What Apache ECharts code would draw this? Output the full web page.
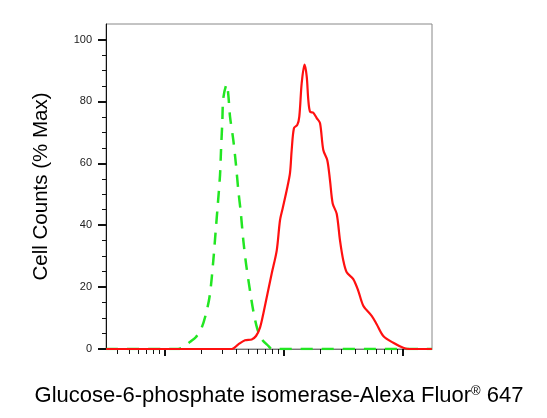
<!DOCTYPE html>
<html><head><meta charset="utf-8">
<script src="https://cdn.jsdelivr.net/npm/echarts@6/dist/echarts.min.js"></script>
<style>html,body{margin:0;padding:0;background:#fff}#c{width:547px;height:418px}</style>
</head><body><div id="c"></div>
<script>
// Control (isotype) histogram - green dashed
const controlX = [32, 128.6, 139.0, 162.3, 182.2, 203.4, 224.0, 238.9, 254.6, 266.7, 277.3, 289.9, 295.6, 303.1, 309.0, 330.0, 340.4, 351.8, 374.9, 395.0, 413.0, 432.6, 455.0, 479.4, 518.0, 552.1, 596.6, 649.5, 738.2, 793.0, 17500];
const controlY = [0, 0, 0.4, 2.3, 3.9, 6.9, 12.3, 17.9, 28.6, 38.3, 46.4, 56.2, 64.3, 73.5, 81.1, 85.5, 82.1, 75.1, 67.5, 59.4, 51.3, 44.3, 35.1, 27.6, 18.8, 12.3, 6.5, 3.2, 1.0, 0, 0];
// Sample histogram - red solid
const sampleX = [32, 363.6, 413.0, 470.2, 535.3, 581.9, 628.5, 670.0, 788.3, 868.5, 925.6, 975.2, 1053.6, 1122.9, 1160.5, 1213.4, 1293.6, 1344.7, 1408.5, 1487.1, 1551.8, 1600.5, 1654.0, 1763.0, 1883.0, 2006.9, 2139.4, 2311.5, 2435.5, 2566.1, 2773.1, 2955.8, 3150.5, 3365.0, 3822.0, 4210.6, 4638.5, 5457.8, 6012.4, 6832.2, 8288.8, 10058, 11452, 17500];
const sampleY = [0, 0, 1.5, 2.8, 3.1, 4.2, 6.9, 11.4, 24.4, 31.8, 41.6, 45.5, 51.3, 56.8, 64.3, 71.4, 72.4, 75.1, 85.9, 91.9, 88.1, 80.5, 76.7, 76.3, 74.6, 73.0, 64.3, 61.0, 54.5, 47.0, 43.7, 35.1, 28.6, 24.8, 22.6, 18.8, 14.0, 10.7, 8.0, 4.2, 2.0, 0.4, 0, 0];

const yTicks = [0, 20, 40, 60, 80, 100];
const yMinorTicks = [5, 10, 15, 25, 30, 35, 45, 50, 55, 65, 70, 75, 85, 90, 95];
const xMajorTicks = [100, 1000, 10000];
const xMinorTicks = [40, 50, 60, 70, 80, 90, 200, 300, 400, 500, 600, 700, 800, 900, 2000, 3000, 4000, 5000, 6000, 7000, 8000, 9000];

const xTitle = 'Glucose-6-phosphate isomerase-Alexa Fluor';
const yTitle = 'Cell Counts (% Max)';

const toPairs = (xs, ys) => xs.map((x, i) => [x, ys[i]]);
const X_MIN = 31.9, X_MAX = 17540, Y_MIN = 0, Y_MAX = 105;
const FONT = 'Liberation Sans, Arial, sans-serif';

const chart = echarts.init(document.getElementById('c'), null, {renderer: 'canvas'});
chart.setOption({
  animation: false,
  backgroundColor: '#fff',
  grid: {left: 106, right: 115, top: 24, bottom: 69, show: true, borderColor: '#888', borderWidth: 1},
  xAxis: [
    {
      type: 'log', min: X_MIN, max: X_MAX, position: 'bottom',
      axisLine: {show: true, lineStyle: {color: '#777', width: 1}},
      axisTick: {show: true, customValues: xMajorTicks, length: 7, lineStyle: {color: '#111', width: 2}},
      axisLabel: {show: false}, splitLine: {show: false},
      name: '{a|' + xTitle + '}{s|®}{a| 647}',
      nameLocation: 'middle', nameGap: 36,
      nameTextStyle: {padding: [0, 0, 0, 20], rich: {
        a: {fontFamily: FONT, fontSize: 22, color: '#000'},
        s: {fontFamily: FONT, fontSize: 13, color: '#000', verticalAlign: 'top', padding: [0, 0, 7, 0]}
      }}
    },
    {
      type: 'log', min: X_MIN, max: X_MAX, position: 'bottom',
      axisLine: {show: false},
      axisTick: {show: true, customValues: xMinorTicks, length: 5, lineStyle: {color: '#111', width: 1}},
      axisLabel: {show: false}, splitLine: {show: false}
    }
  ],
  yAxis: [
    {
      type: 'value', min: Y_MIN, max: Y_MAX, position: 'left',
      axisLine: {show: true, lineStyle: {color: '#111', width: 1}},
      axisTick: {show: true, customValues: yTicks, length: 8, lineStyle: {color: '#111', width: 2}},
      axisLabel: {show: true, customValues: yTicks, margin: 14, fontFamily: FONT, fontSize: 11, color: '#222'},
      splitLine: {show: false},
      name: yTitle, nameLocation: 'middle', nameGap: 54,
      nameTextStyle: {fontFamily: FONT, fontSize: 20.5, color: '#000'}
    },
    {
      type: 'value', min: Y_MIN, max: Y_MAX, position: 'left',
      axisLine: {show: false},
      axisTick: {show: true, customValues: yMinorTicks, length: 4, lineStyle: {color: '#111', width: 1}},
      axisLabel: {show: false}, splitLine: {show: false}
    }
  ],
  series: [
    {
      type: 'line', xAxisIndex: 0, yAxisIndex: 0, data: toPairs(controlX, controlY),
      showSymbol: false, symbol: 'none', smooth: 0.3,
      lineStyle: {color: '#22e622', width: 2.5, type: [12, 9]}, z: 2
    },
    {
      type: 'line', xAxisIndex: 0, yAxisIndex: 0, data: toPairs(sampleX, sampleY),
      showSymbol: false, symbol: 'none', smooth: 0.3,
      lineStyle: {color: '#ff1010', width: 2.2}, z: 3
    }
  ]
});
</script>
</body></html>
